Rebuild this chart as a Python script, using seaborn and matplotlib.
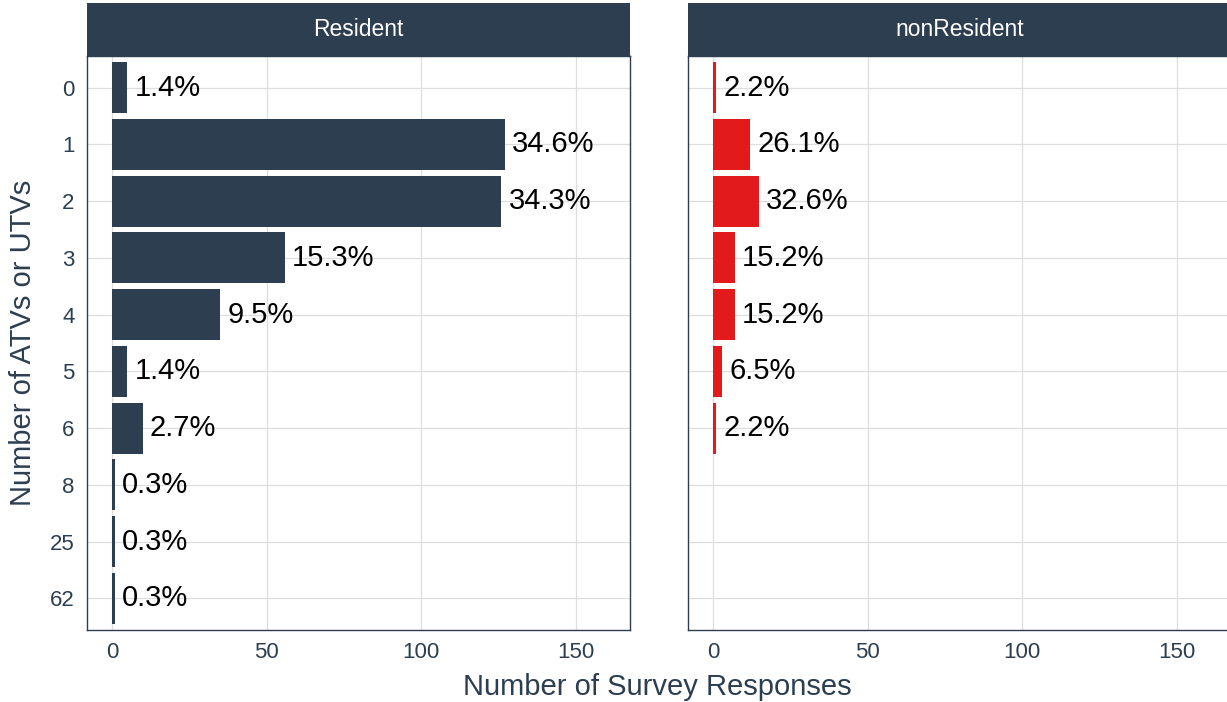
import numpy as np
import pandas as pd
import seaborn as sns
import matplotlib.pyplot as plt

sns.set_style('white')
plt.rcParams['font.family'] = ['Liberation Sans', 'DejaVu Sans']

# number of ATVs/UTVs owned, survey response counts
atv_levels = ['0', '1', '2', '3', '4', '5', '6', '8', '25', '62']
resident_n = [5, 127, 126, 56, 35, 5, 10, 1, 1, 1]
nonresident_n = [1, 12, 15, 7, 7, 3, 1, 0, 0, 0]
groups = ['Resident', 'nonResident']
bar_colors = {'Resident': '#2C3E50', 'nonResident': '#E31A1C'}

df = pd.DataFrame({
    'atvs': atv_levels * 2,
    'n': resident_n + nonresident_n,
    'group': ['Resident'] * len(atv_levels) + ['nonResident'] * len(atv_levels),
})
df['pct'] = df['n'] / df.groupby('group')['n'].transform('sum') * 100

navy = '#2C3E50'
W, H = 1227, 702
fig = plt.figure(figsize=(W / 100, H / 100), dpi=100)

panel_left = [87, 688]
panel_w = 543
top, bottom = 56, 630

for i, g in enumerate(groups):
    ax = fig.add_axes([panel_left[i] / W, 1 - bottom / H, panel_w / W, (bottom - top) / H])
    sub = df[df['group'] == g]
    sns.barplot(data=sub, x='n', y='atvs', order=atv_levels, color=bar_colors[g],
                width=0.9, orient='h', linewidth=0, saturation=1, ax=ax)
    for j, row in enumerate(sub.itertuples()):
        if row.n > 0:
            ax.annotate(f'{row.pct:.1f}%', (row.n, j), xytext=(5, 0),
                        textcoords='offset points', va='center', ha='left',
                        fontsize=21, color='black')
    ax.set_xlim(-8.1, 167.6)
    ax.set_ylim(len(atv_levels) - 0.44, -0.56)
    ax.set_xticks([0, 50, 100, 150])
    ax.set_xlabel('')
    ax.set_ylabel('')
    ax.grid(True, color='#DEDEDE', lw=0.9)
    ax.set_axisbelow(True)
    ax.tick_params(axis='both', length=5, width=0.9, color='#D9D9D9',
                   labelcolor=navy, labelsize=16, pad=4)
    if i == 1:
        ax.tick_params(axis='y', left=False, labelleft=False)
    for s in ax.spines.values():
        s.set_color(navy)
        s.set_linewidth(1.0)

    # facet strip
    sax = fig.add_axes([panel_left[i] / W, 1 - top / H, panel_w / W, (top - 3) / H])
    sax.set_facecolor(navy)
    sax.set_xticks([])
    sax.set_yticks([])
    for s in sax.spines.values():
        s.set_visible(False)
    sax.text(0.5, 0.5, g, color='white', fontsize=16.5, ha='center', va='center',
             transform=sax.transAxes)

fig.text(657 / W, 1 - 695 / H, 'Number of Survey Responses', ha='center', va='baseline',
         fontsize=21, color=navy)
fig.text(23 / W, 1 - 343 / H, 'Number of ATVs or UTVs', ha='center', va='center',
         rotation=90, fontsize=21, color=navy)

fig.savefig('out.png', dpi=100)
